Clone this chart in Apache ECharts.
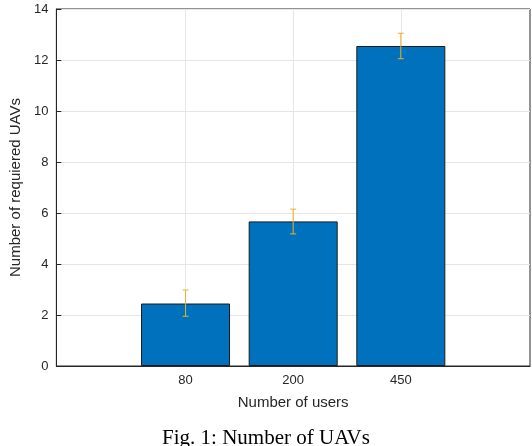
<!DOCTYPE html><html><head><meta charset="utf-8"><script src="https://cdn.jsdelivr.net/npm/echarts@6/dist/echarts.min.js"></script>
<style>body{margin:0}#c{width:532px;height:446px}</style></head><body><div id="c"></div><script>
const categories=['80','200','450'];
const positions=[1,2,3];
const values=[2.45,5.67,12.55];
const errLow=[1.95,5.18,12.05];
const errHigh=[2.98,6.15,13.05];
const yTicks=[0,2,4,6,8,10,12,14];
const ch=echarts.init(document.getElementById('c'));
const font='Liberation Sans';
ch.setOption({
animation:false,
grid:{left:45,right:2,top:9,bottom:80,show:true,borderColor:'#262626',borderWidth:1,backgroundColor:'#fff'},
xAxis:{type:'value',min:-0.2,max:4.2,name:'Number of users',nameLocation:'middle',nameGap:29,
 nameTextStyle:{fontFamily:font,fontSize:15,color:'#262626'},
 axisLine:{onZero:false,lineStyle:{color:'#262626'}},
 axisTick:{inside:true,length:5,customValues:positions,lineStyle:{color:'#262626'}},
 axisLabel:{customValues:positions,fontFamily:font,fontSize:13,color:'#262626',formatter:v=>categories[positions.indexOf(Math.round(v))]||''},
 splitLine:{show:true,lineStyle:{color:'#e6e6e6'}}},
yAxis:{type:'value',min:0,max:14,interval:2,name:'Number of requiered UAVs',nameLocation:'middle',nameGap:30,
 nameTextStyle:{fontFamily:font,fontSize:15,color:'#262626'},
 axisLine:{show:true,onZero:false,lineStyle:{color:'#262626'}},
 axisTick:{inside:true,length:5,lineStyle:{color:'#262626'}},
 axisLabel:{fontFamily:font,fontSize:13,color:'#262626',formatter:v=>yTicks.includes(v)?String(v):''},
 splitLine:{show:true,lineStyle:{color:'#e6e6e6'}}},
series:[
{type:'bar',data:positions.map((p,i)=>[p,values[i]]),barWidth:89,itemStyle:{color:'#0072BD',borderColor:'#1a1a1a',borderWidth:1}},
{type:'custom',data:positions.map((p,i)=>[p,errLow[i],errHigh[i]]),z:10,
 renderItem:(params,api)=>{const x=api.value(0);const lo=api.coord([x,api.value(1)]);const hi=api.coord([x,api.value(2)]);const w=3;
 const st={stroke:'#EDB120',lineWidth:1};
 return {type:'group',children:[
 {type:'line',shape:{x1:lo[0],y1:lo[1],x2:hi[0],y2:hi[1]},style:st},
 {type:'line',shape:{x1:lo[0]-w,y1:lo[1],x2:lo[0]+w,y2:lo[1]},style:st},
 {type:'line',shape:{x1:hi[0]-w,y1:hi[1],x2:hi[0]+w,y2:hi[1]},style:st}]};}}
],
graphic:[{type:'text',left:'center',top:428,style:{text:'Fig. 1: Number of UAVs',fontFamily:'Liberation Serif',fontSize:21,fill:'#000'}}]
});
</script></body></html>
